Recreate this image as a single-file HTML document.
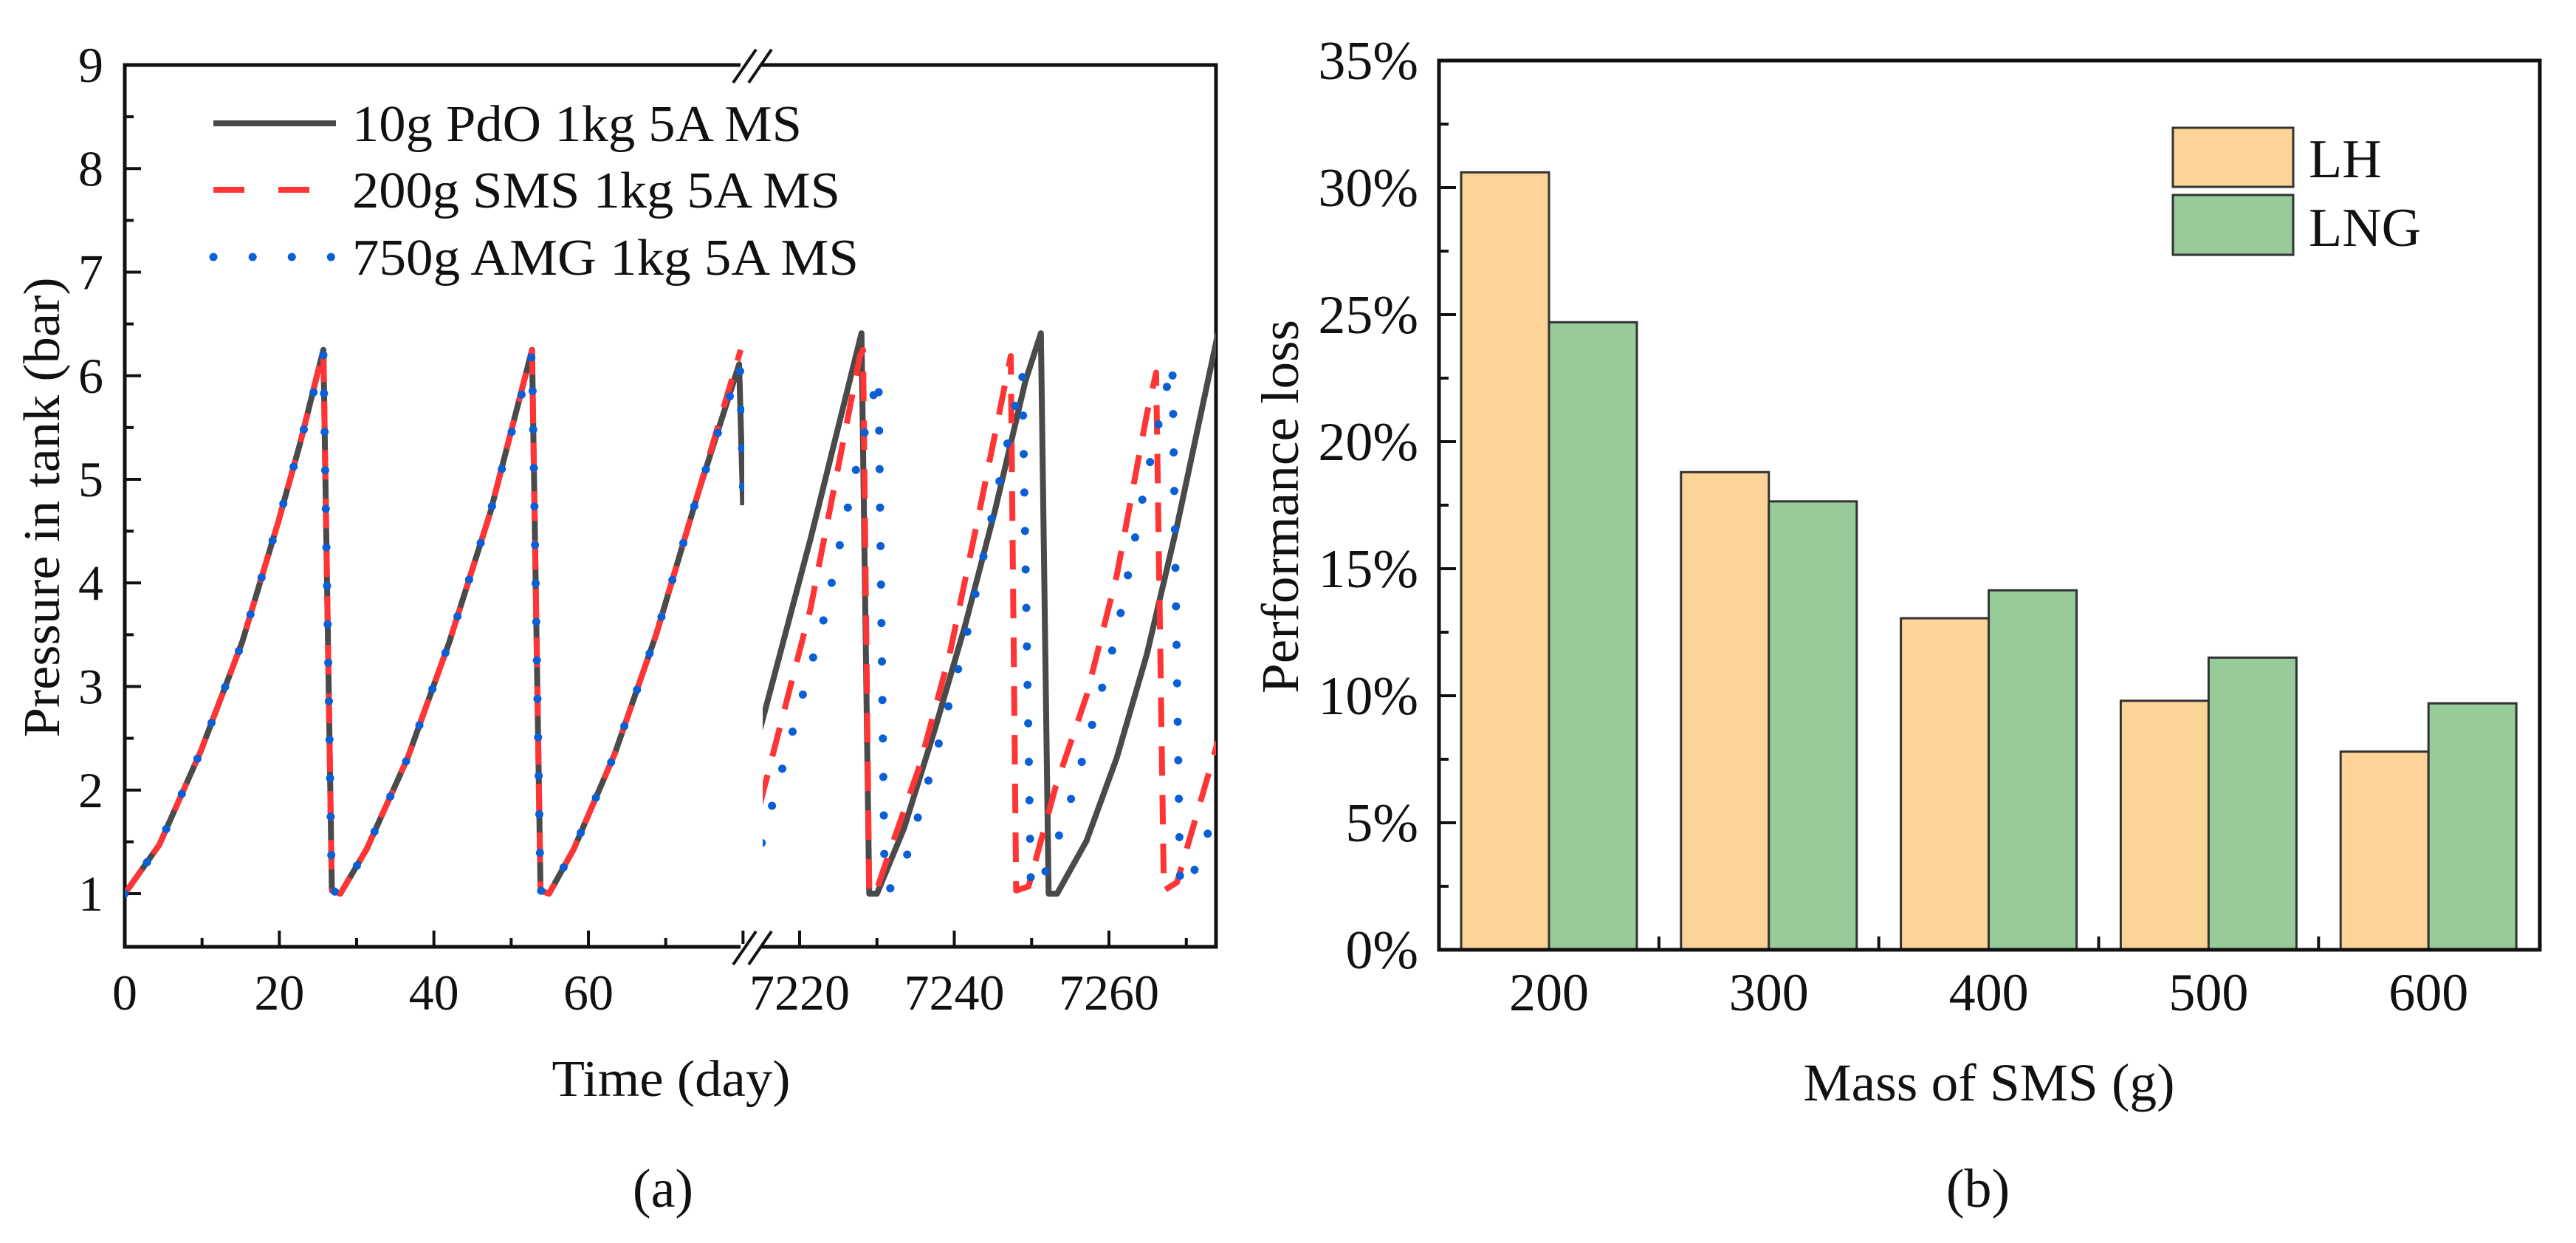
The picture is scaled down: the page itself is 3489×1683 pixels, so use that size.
<!DOCTYPE html>
<html><head><meta charset="utf-8"><style>
html,body{margin:0;padding:0;background:#fff;}
svg{display:block;font-family:"Liberation Serif",serif;}
</style></head><body>
<svg id="fig" width="3489" height="1683" viewBox="0 0 3489 1683" xmlns="http://www.w3.org/2000/svg">
<rect width="3489" height="1683" fill="#fff"/>
<g id="chartA"></g>
<g id="chartB"></g>
</svg>
<script>
// ---------- Chart (a) data ----------
const yTicksA = [1,2,3,4,5,6,7,8,9];
const xTicksLeft = [0,20,40,60];
const xTicksRight = [7220,7240,7260];
const blackLeftT = [0,4.45,9.8,15.2,19.9,22.7,25.7,26.8,27.9,31.3,36.6,42,47.3,52.7,53.8,54.9,58.1,63.4,68.8,74.2,79.5,80];
const blackLeftP = [1,1.47,2.37,3.43,4.6,5.35,6.25,1.03,1,1.43,2.31,3.43,4.68,6.25,1.03,1,1.43,2.35,3.51,4.87,6.11,4.75];
const redLeftT = [0,4.45,9.8,15.2,19.9,22.7,25.7,26.8,27.9,31.3,36.6,42,47.3,52.7,53.8,54.9,58.1,63.4,68.8,74.2,79.7];
const redLeftP = [1,1.47,2.37,3.43,4.6,5.35,6.25,1.03,1,1.43,2.31,3.43,4.68,6.25,1.03,1,1.43,2.35,3.51,4.87,6.25];
const blueLeftT = [0,4.45,9.8,15.2,19.9,22.7,25.7,26.8,27.9,31.3,36.6,42,47.3,52.7,53.8,54.9,58.1,63.4,68.8,74.2,79.6,80];
const blueLeftP = [1,1.47,2.37,3.43,4.6,5.35,6.2,1.03,1,1.43,2.31,3.43,4.68,6.2,1.03,1,1.43,2.35,3.51,4.87,6.1,4.9];
const blackRightT = [7214.9,7221.5,7228.0,7229.0,7230,7233.5,7237.5,7241.4,7245.3,7249.2,7251.2,7252.2,7253.3,7257.1,7261,7264.9,7268.8,7274.1];
const blackRightP = [2.59,4.45,6.41,1,1,1.63,2.59,3.59,4.71,5.95,6.41,1,1,1.51,2.31,3.31,4.55,6.41];
const redRightT = [7214.9,7221.4,7227.8,7228.2,7229.0,7229.8,7231.2,7235.5,7239.4,7243.3,7247.3,7248.0,7249.6,7253.1,7257.1,7261,7264.9,7266.1,7267.1,7268.8,7274.1];
const redRightP = [1.87,3.75,6.19,6.25,1,1,1.31,2.23,3.31,4.71,6.19,1.03,1.07,2.03,2.91,4.07,5.63,6.03,1.03,1.11,2.47];
const blueRightT = [7215.1,7223.2,7227.5,7230.2,7231.0,7231.8,7233.5,7237.5,7241.4,7245.3,7248.8,7249.9,7250.8,7254.3,7257.1,7261,7264.9,7268.2,7269.2,7270.2,7273.7];
const blueRightP = [1.49,3.67,5.17,6.01,1.07,1.05,1.27,2.31,3.43,4.79,6.03,1.1,1.02,1.71,2.43,3.51,5.03,6.13,1.07,1.05,1.77];
const legendLabels = ["10g PdO 1kg 5A MS","200g SMS 1kg 5A MS","750g AMG 1kg 5A MS"];

// ---------- Chart (b) data ----------
const categories = ["200","300","400","500","600"];
const lhValues = [30.6,18.8,13.05,9.8,7.8];
const lngValues = [24.7,17.65,14.15,11.5,9.7];
const yTicksB = [0,5,10,15,20,25,30,35];

const NS = "http://www.w3.org/2000/svg";
function mk(parent, tag, attrs, text){
  const e = document.createElementNS(NS, tag);
  for (const k in attrs) e.setAttribute(k, attrs[k]);
  if (text !== undefined) e.textContent = text;
  parent.appendChild(e);
  return e;
}

// ---------- Chart (a) ----------
(function(){
  const g = document.getElementById('chartA');
  const L=169, R=1647, T=88, B=1282;
  const yA = p => 1210 - (p-1)*140.25;
  const xL = d => 169 + d*10.467;
  const xR = d => 1083 + (d-7220)*10.475;
  const BRK1=1006, BRK2=1033;
  let e;
  e = mk(g,'rect',{x:L,y:T,width:R-L,height:B-T,fill:'none',stroke:'#111','stroke-width':5});
   

  for (let v=1; v<=9; v+=0.5){
    const major = Number.isInteger(v);
    e = mk(g,'line',{x1:L,x2:L+(major?22:12),y1:yA(v),y2:yA(v),stroke:'#111','stroke-width':4});
     
  }
  yTicksA.forEach(v=>{
    e = mk(g,'text',{x:140,y:yA(v)+23,'text-anchor':'end','font-size':68,fill:'#111'},String(v));
     
  });
  for (let d=0; d<=80; d+=10){
    const major = d%20===0;
    e = mk(g,'line',{x1:xL(d),x2:xL(d),y1:B,y2:B-(major?22:12),stroke:'#111','stroke-width':4});
     
  }
  for (let d=7220; d<=7270; d+=10){
    const major = d%20===0;
    e = mk(g,'line',{x1:xR(d),x2:xR(d),y1:B,y2:B-(major?22:12),stroke:'#111','stroke-width':4});
     
  }
  xTicksLeft.forEach(d=>{
    e = mk(g,'text',{x:xL(d),y:1367,'text-anchor':'middle','font-size':68,fill:'#111'},String(d));
     
  });
  xTicksRight.forEach(d=>{
    e = mk(g,'text',{x:xR(d),y:1367,'text-anchor':'middle','font-size':68,fill:'#111'},String(d));
     
  });

  const defs = mk(g,'defs',{});
  const c1 = mk(defs,'clipPath',{id:'clipL'}); mk(c1,'rect',{x:L,y:T,width:BRK1-L+2,height:B-T});
  const c2 = mk(defs,'clipPath',{id:'clipR'}); mk(c2,'rect',{x:BRK2,y:T,width:R-BRK2,height:B-T});

  function series(ts, ps, xf, style, name, clip){
    const pts = ts.map((t,i)=> xf(t).toFixed(1)+','+yA(ps[i]).toFixed(1)).join(' ');
    const a = Object.assign({points:pts,fill:'none','clip-path':'url(#'+clip+')','stroke-linejoin':'round'}, style);
    const el = mk(g,'polyline',a);
    
    
  }
  const sBlack = {stroke:'#4a4a4a','stroke-width':8};
  const sRed = {stroke:'#ff3535','stroke-width':8,'stroke-dasharray':'40 26'};
  const sBlue = {stroke:'#0a5fd6','stroke-width':11,'stroke-dasharray':'0.1 52','stroke-linecap':'round'};
  series(blackLeftT,blackLeftP,xL,sBlack,'series-pdo-left','clipL');
  series(redLeftT,redLeftP,xL,sRed,'series-sms-left','clipL');
  series(blueLeftT,blueLeftP,xL,sBlue,'series-amg-left','clipL');
  series(blackRightT,blackRightP,xR,sBlack,'series-pdo-right','clipR');
  series(redRightT,redRightP,xR,sRed,'series-sms-right','clipR');
  series(blueRightT,blueRightP,xR,sBlue,'series-amg-right','clipR');

  [[T],[B]].forEach(([yy])=>{
    e = mk(g,'rect',{x:1003,y:yy-4,width:28,height:8,fill:'#fff'});
     
    e = mk(g,'line',{x1:993,y1:yy+24,x2:1024,y2:yy-21,stroke:'#111','stroke-width':4});
     
    e = mk(g,'line',{x1:1014,y1:yy+24,x2:1045,y2:yy-21,stroke:'#111','stroke-width':4});
     
  });

  const ly=[167,257,348], lw=[609,661,686];
  const lstyles=[sBlack,sRed,sBlue];
  legendLabels.forEach((lab,i)=>{
    const a = Object.assign({x1:289,x2:455,y1:ly[i],y2:ly[i]}, lstyles[i]);
    if (i===1) a['stroke-dasharray']='42 46';
    if (i===2) a['stroke-dasharray']='0.1 53';
    e = mk(g,'line',a);
     
    e = mk(g,'text',{x:477,y:ly[i]+24,'font-size':70,fill:'#111',textLength:lw[i],lengthAdjust:'spacingAndGlyphs'},lab);
     
  });

  e = mk(g,'text',{x:0,y:0,'font-size':70,fill:'#111','text-anchor':'middle',transform:'translate(80,687) rotate(-90)',textLength:623,lengthAdjust:'spacingAndGlyphs'},'Pressure in tank (bar)');
   
  e = mk(g,'text',{x:909,y:1484,'font-size':70,fill:'#111','text-anchor':'middle',textLength:323,lengthAdjust:'spacingAndGlyphs'},'Time (day)');
   
  e = mk(g,'text',{x:898,y:1634,'font-size':74,fill:'#111','text-anchor':'middle'},'(a)');
   
})();

// ---------- Chart (b) ----------
(function(){
  const g = document.getElementById('chartB');
  const L=1949, R=3440, T=82, B=1286;
  const yB = v => B - v*(B-T)/35;
  const xC = i => 2098 + i*297.8;
  const bw = 119;
  let e;
  categories.forEach((c,i)=>{
    e = mk(g,'rect',{x:xC(i)-bw,y:yB(lhValues[i]),width:bw,height:B-yB(lhValues[i]),fill:'#fdd498',stroke:'#333','stroke-width':3});
     
    e = mk(g,'rect',{x:xC(i),y:yB(lngValues[i]),width:bw,height:B-yB(lngValues[i]),fill:'#97cb99',stroke:'#333','stroke-width':3});
     
    e = mk(g,'text',{x:xC(i),y:1368,'text-anchor':'middle','font-size':72,fill:'#111'},c);
     
    if (i<categories.length-1){
      e = mk(g,'line',{x1:xC(i)+148.9,x2:xC(i)+148.9,y1:B,y2:B-18,stroke:'#111','stroke-width':4});
       
    }
  });
  e = mk(g,'rect',{x:L,y:T,width:R-L,height:B-T,fill:'none',stroke:'#111','stroke-width':5});
   
  for (let v=0; v<=35; v+=2.5){
    const major = v%5===0;
    e = mk(g,'line',{x1:L,x2:L+(major?23:13),y1:yB(v),y2:yB(v),stroke:'#111','stroke-width':4});
     
  }
  yTicksB.forEach(v=>{
    e = mk(g,'text',{x:1921,y:yB(v)+25,'text-anchor':'end','font-size':74,fill:'#111'},v+'%');
     
  });
  e = mk(g,'rect',{x:2943,y:173,width:163,height:80,fill:'#fdd498',stroke:'#333','stroke-width':3});
   
  e = mk(g,'rect',{x:2943,y:264,width:163,height:81,fill:'#97cb99',stroke:'#333','stroke-width':3});
   
  e = mk(g,'text',{x:3127,y:240,'font-size':74,fill:'#111'},'LH');
   
  e = mk(g,'text',{x:3127,y:333,'font-size':74,fill:'#111'},'LNG');
   

  e = mk(g,'text',{x:0,y:0,'font-size':72,fill:'#111','text-anchor':'middle',transform:'translate(1758,686) rotate(-90)',textLength:506,lengthAdjust:'spacingAndGlyphs'},'Performance loss');
   
  e = mk(g,'text',{x:2694,y:1490,'font-size':72,fill:'#111','text-anchor':'middle',textLength:503,lengthAdjust:'spacingAndGlyphs'},'Mass of SMS (g)');
   
  e = mk(g,'text',{x:2679,y:1634,'font-size':74,fill:'#111','text-anchor':'middle'},'(b)');
   
})();
</script>
</body></html>
